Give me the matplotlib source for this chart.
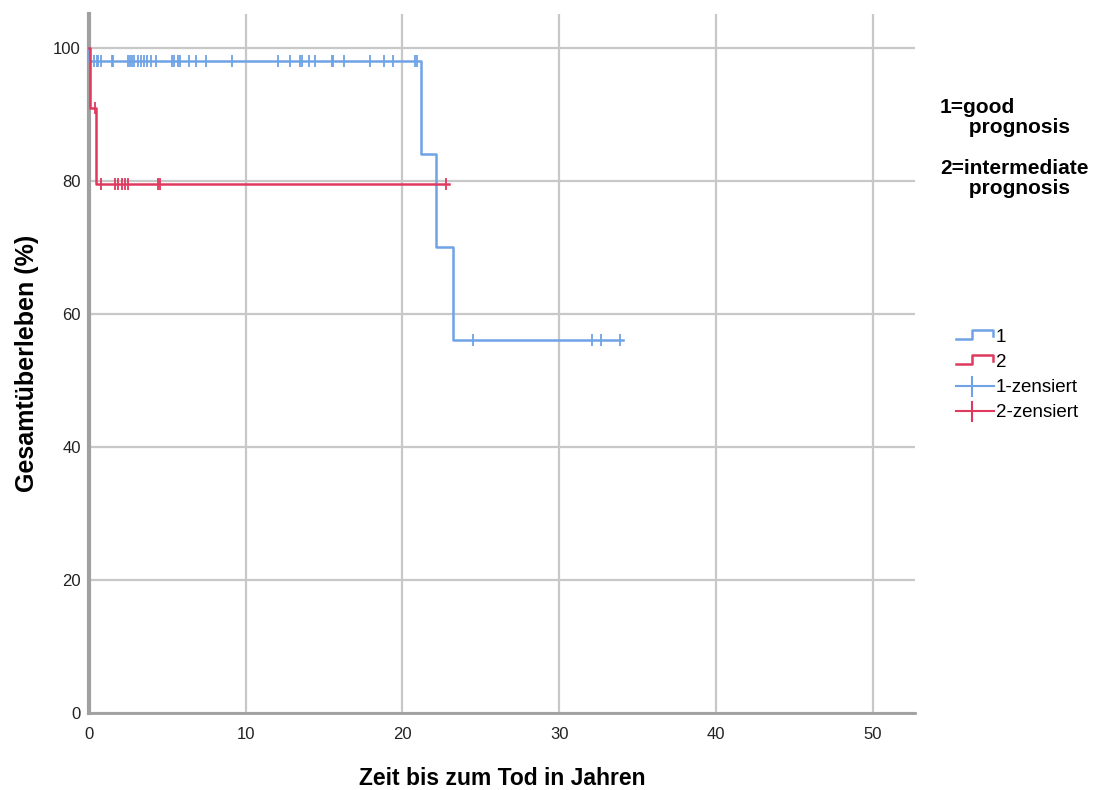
import matplotlib
matplotlib.use("Agg")
import matplotlib.pyplot as plt
from matplotlib.lines import Line2D
from matplotlib.legend_handler import HandlerBase

plt.rcParams['font.family'] = ['Liberation Sans', 'DejaVu Sans']

# Kaplan-Meier step data
blue_times = [0, 0.02, 21.2, 22.15, 23.25, 34.1]
blue_surv = [100, 98, 84, 70, 56, 56]
blue_cens = [0.35, 0.5, 0.6, 0.75, 1.45, 1.55, 2.5, 2.6, 2.75, 2.9, 3.1, 3.3,
             3.5, 3.7, 3.95, 4.3, 5.3, 5.45, 5.65, 5.8, 6.35, 6.8, 7.45, 9.1,
             12.05, 12.8, 13.45, 13.6, 14.05, 14.45, 15.5, 15.6, 16.25, 17.95,
             18.8, 19.4, 20.8, 20.95, 24.5, 32.1, 32.7, 33.9]
blue_cens_surv = [98] * 38 + [56] * 4

red_times = [0, 0.05, 0.42, 23.0]
red_surv = [100, 91, 79.5, 79.5]
red_cens = [0.38, 0.75, 1.66, 1.87, 2.08, 2.3, 2.5, 4.4, 4.5, 22.75]
red_cens_surv = [91] + [79.5] * 9

BLUE = '#6fa3e6'
RED = '#df3a5e'

fig = plt.figure(figsize=(11.07, 7.90), dpi=100)
ax = fig.add_axes([0.0804, 0.0975, 0.746, 0.885])

ax.plot(blue_times, blue_surv, drawstyle='steps-post', color=BLUE, lw=1.8, zorder=3, clip_on=False)
ax.plot(red_times, red_surv, drawstyle='steps-post', color=RED, lw=1.8, zorder=3.1, clip_on=False)
ax.plot(blue_cens, blue_cens_surv, ls='none', marker='|', ms=9, mew=1.3, color=BLUE, zorder=3)
ax.plot(red_cens, red_cens_surv, ls='none', marker='|', ms=9, mew=1.3, color=RED, zorder=3.1)

ax.set_xlim(0, 52.7)
ax.set_ylim(0, 105.1)
ax.set_xticks([0, 10, 20, 30, 40, 50])
ax.set_yticks([0, 20, 40, 60, 80, 100])
ax.grid(True, color='#c8c8c8', lw=1.6)
ax.set_axisbelow(True)
for s in ['top', 'right']:
    ax.spines[s].set_visible(False)
ax.spines['left'].set_color('#a0a0a0')
ax.spines['left'].set_linewidth(3)
ax.spines['bottom'].set_color('#a0a0a0')
ax.spines['bottom'].set_linewidth(2)
ax.tick_params(length=0, labelsize=12, colors='#222222')
ax.tick_params(axis='x', pad=10)
ax.tick_params(axis='y', pad=6)

ax.set_xlabel('Zeit bis zum Tod in Jahren', fontsize=16.5, fontweight='bold', labelpad=18)
ax.set_ylabel('Gesamtüberleben (%)', fontsize=18, fontweight='bold', labelpad=10)


class StepHandler(HandlerBase):
    def create_artists(self, legend, orig_handle, xdescent, ydescent, width, height, fontsize, trans):
        w, h = width, height
        xs = [0, 0.42 * w, 0.42 * w, 0.97 * w, 0.97 * w]
        ys = [0.2 * h, 0.2 * h, 0.95 * h, 0.95 * h, 0.45 * h]
        l = Line2D(xs, ys, color=orig_handle.get_color(), lw=1.8, transform=trans)
        return [l]


class CensHandler(HandlerBase):
    def create_artists(self, legend, orig_handle, xdescent, ydescent, width, height, fontsize, trans):
        c = orig_handle.get_color()
        l1 = Line2D([0, width], [0.45 * height, 0.45 * height], color=c, lw=1.5, transform=trans)
        l2 = Line2D([0.42 * width, 0.42 * width], [-0.3 * height, 1.15 * height], color=c, lw=1.5, transform=trans)
        return [l1, l2]


class StepKey(Line2D):
    pass


class CensKey(Line2D):
    pass


handles = [StepKey([], [], color=BLUE), StepKey([], [], color=RED),
           CensKey([], [], color=BLUE), CensKey([], [], color=RED)]
labels = ['1', '2', '1-zensiert', '2-zensiert']
fig.legend(handles, labels, loc='upper left', bbox_to_anchor=(0.8485, 0.605),
           frameon=False, fontsize=13.5, handlelength=2.0, handletextpad=0.1,
           labelspacing=0.42,
           handler_map={StepKey: StepHandler(), CensKey: CensHandler()})

fig.text(0.849, 0.876, '1=good\n     prognosis', fontsize=15, fontweight='bold',
         va='top', ha='left', linespacing=1.1)
fig.text(0.849, 0.799, '2=intermediate\n     prognosis', fontsize=15, fontweight='bold',
         va='top', ha='left', linespacing=1.1)

fig.savefig('out.png', dpi=100)
